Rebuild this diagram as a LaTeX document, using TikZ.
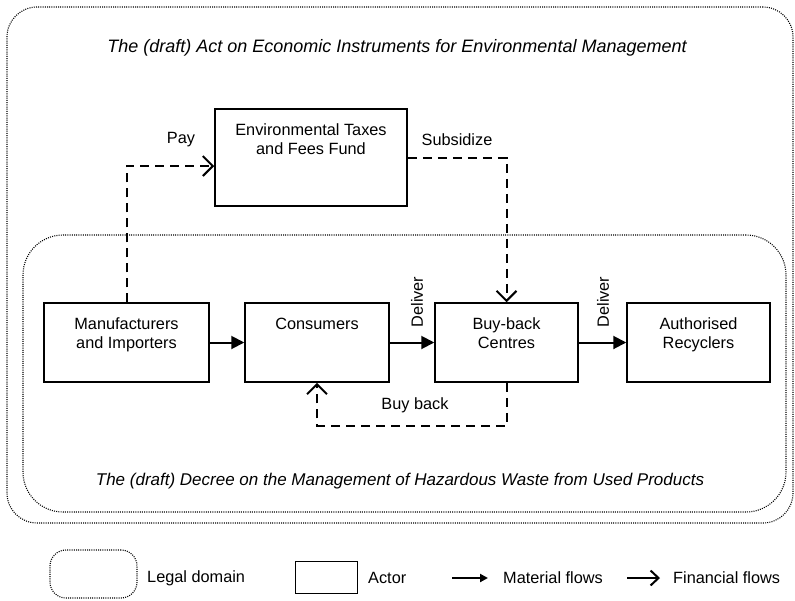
\documentclass[tikz,border=0pt]{standalone}
\usepackage{fontspec}
\setmainfont{Liberation Sans}
\usetikzlibrary{arrows.meta}
\begin{document}
\begin{tikzpicture}[x=1pt,y=-1pt,
  font=\fontsize{16.3}{18.5}\selectfont,
  actor/.style={draw, line width=1.5pt, rectangle, inner sep=0pt, minimum height=79pt},
  domain/.style={draw, line width=1.1pt, dash pattern=on 1pt off 1.2pt, rounded corners=#1, inner sep=0pt},
  toplabel/.style={anchor=north, yshift=-15.5pt, align=center, inner sep=0pt},
  mat/.style={line width=2pt, -{Triangle[length=13pt,width=13pt]}},
  fin/.style={line width=2pt, dash pattern=on 9pt off 6pt, -{Straight Barb[length=10pt,width=20pt,line width=2pt]}},
  lgtext/.style={anchor=west, inner sep=0pt}
  ]
\useasboundingbox (0,0) rectangle (795,600);

% legal domains
\node[domain=30pt, minimum width=786pt, minimum height=516pt] (act) at (400,265) {};
\node[domain=40pt, minimum width=763pt, minimum height=277pt] (decree) at (404.5,373.5) {};

% titles
\node[font=\fontsize{18}{20}\selectfont\itshape] (acttitle) at (397,48) {The (draft) Act on Economic Instruments for Environmental Management};
\node[font=\fontsize{17}{20}\selectfont\itshape] (decreetitle) at (400,481) {The (draft) Decree on the Management of Hazardous Waste from Used Products};

% actors
\node[actor, minimum width=192pt, minimum height=97pt,
  label={[toplabel]north:Environmental Taxes\\and Fees Fund}] (env) at (311,157.5) {};
\node[actor, minimum width=165pt,
  label={[toplabel]north:Manufacturers\\and Importers}] (man) at (126.5,342.5) {};
\node[actor, minimum width=144pt,
  label={[toplabel]north:Consumers}] (con) at (317,342.5) {};
\node[actor, minimum width=143pt,
  label={[toplabel]north:Buy-back\\Centres}] (bbc) at (506.5,342.5) {};
\node[actor, minimum width=143pt,
  label={[toplabel]north:Authorised\\Recyclers}] (rec) at (698.5,342.5) {};

% material flows
\draw[mat] (man) -- (con);
\draw[mat] (con) -- (bbc);
\draw[mat] (bbc) -- (rec);

% financial flows
\draw[fin] (man.north) |- ([yshift=-8.5pt]env.west);
\draw[fin] (env.east) -| (bbc.north);
\draw[fin] (bbc.south) -- ++(0,43) -| (con.south);

% flow labels
\node (pay) at (181,140) {Pay};
\node (subs) at (457,140) {Subsidize};
\node[rotate=90] (del1) at (417,302) {Deliver};
\node[rotate=90] (del2) at (603,302) {Deliver};
\node (buyback) at (415,405) {Buy back};

% legend
\node[domain=16pt, minimum width=87pt, minimum height=48pt] (lgdom) at (93.5,574) {};
\node[lgtext] (lgdomtext) at (147,578) {Legal domain};
\node[draw, line width=1pt, minimum width=62pt, minimum height=32pt, inner sep=0pt] (lgact) at (326,577) {};
\node[lgtext] (lgacttext) at (368,578) {Actor};
\coordinate (ma1) at (452,578);
\coordinate (ma2) at (488,578);
\draw[line width=2pt, -{Triangle[length=8pt,width=8pt]}] (ma1) -- (ma2);
\node[lgtext] (lgmattext) at (503,578) {Material flows};
\coordinate (fa1) at (627,578);
\coordinate (fa2) at (660,578);
\draw[line width=2pt, -{Straight Barb[length=8pt,width=15pt,line width=2pt]}] (fa1) -- (fa2);
\node[lgtext] (lgfintext) at (673,578) {Financial flows};
\end{tikzpicture}
\end{document}
